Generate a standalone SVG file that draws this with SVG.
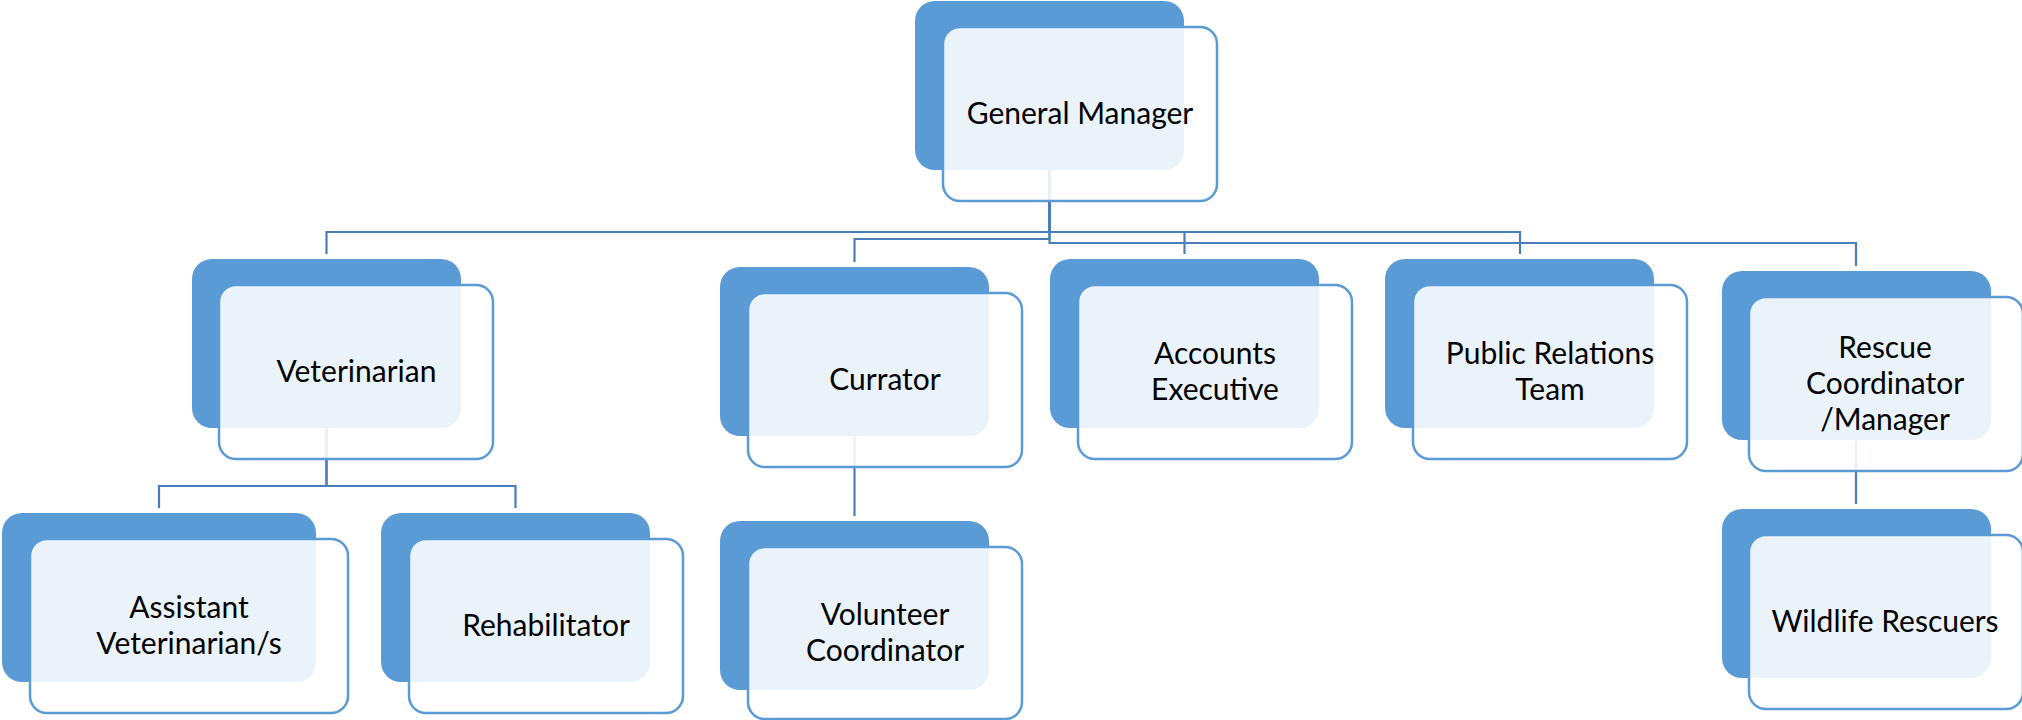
<svg xmlns="http://www.w3.org/2000/svg" width="2022" height="720" viewBox="0 0 2022 720">
<style>
.dark{fill:#5B9BD5;}
.inner{fill:#FFFFFF;fill-opacity:0.88;stroke:#5B9BD5;stroke-width:2.5;}
.conn{fill:none;stroke:#4A7EBB;stroke-width:2.2;}
.t{font-family:Lato,"Liberation Sans",sans-serif;font-size:30px;fill:#000;text-anchor:middle;}
</style>
<rect width="2022" height="720" fill="#FFFFFF"/>
<g id="connectors">
<path class="conn" d="M1049.5 170 V232 H326.5 V254"/>
<path class="conn" d="M1049.5 170 V232 H1184.5 V254"/>
<path class="conn" d="M1049.5 170 V232 H1520 V254"/>
<path class="conn" d="M1049.5 170 V239 H854.5 V262"/>
<path class="conn" d="M1049.5 170 V243 H1856 V266"/>
<path class="conn" d="M326.5 428 V486 H159 V508"/>
<path class="conn" d="M326.5 428 V486 H515.5 V508"/>
<path class="conn" d="M854.5 436 V516"/>
<path class="conn" d="M1856 441 V504"/>
</g>
<g id="general-manager">
<rect class="dark" x="915" y="1" width="269" height="169" rx="20"/>
<rect class="inner" x="943" y="27" width="274" height="174" rx="17"/>
<text class="t" x="1080" y="124">General Manager</text>
</g>
<g id="veterinarian">
<rect class="dark" x="192" y="259" width="269" height="169" rx="20"/>
<rect class="inner" x="219" y="285" width="274" height="174" rx="17"/>
<text class="t" x="356.5" y="382">Veterinarian</text>
</g>
<g id="currator">
<rect class="dark" x="720" y="267" width="269" height="169" rx="20"/>
<rect class="inner" x="748" y="293" width="274" height="174" rx="17"/>
<text class="t" x="885" y="390">Currator</text>
</g>
<g id="accounts-executive">
<rect class="dark" x="1050" y="259" width="269" height="169" rx="20"/>
<rect class="inner" x="1078" y="285" width="274" height="174" rx="17"/>
<text class="t" x="1215" y="364">Accounts</text>
<text class="t" x="1215" y="400">Executive</text>
</g>
<g id="public-relations">
<rect class="dark" x="1385" y="259" width="269" height="169" rx="20"/>
<rect class="inner" x="1413" y="285" width="274" height="174" rx="17"/>
<text class="t" x="1550" y="364">Public Relations</text>
<text class="t" x="1550" y="400">Team</text>
</g>
<g id="rescue-coordinator">
<rect class="dark" x="1722" y="271" width="269" height="169" rx="20"/>
<rect class="inner" x="1749" y="297" width="274" height="174" rx="17"/>
<text class="t" x="1885" y="358">Rescue</text>
<text class="t" x="1885" y="394">Coordinator</text>
<text class="t" x="1885" y="430">/Manager</text>
</g>
<g id="assistant-veterinarian">
<rect class="dark" x="2" y="513" width="314" height="169" rx="20"/>
<rect class="inner" x="30" y="539" width="318" height="174" rx="17"/>
<text class="t" x="189" y="618">Assistant</text>
<text class="t" x="189" y="654">Veterinarian/s</text>
</g>
<g id="rehabilitator">
<rect class="dark" x="381" y="513" width="269" height="169" rx="20"/>
<rect class="inner" x="409" y="539" width="274" height="174" rx="17"/>
<text class="t" x="546" y="636">Rehabilitator</text>
</g>
<g id="volunteer-coordinator">
<rect class="dark" x="720" y="521" width="269" height="169" rx="20"/>
<rect class="inner" x="748" y="547" width="274" height="172" rx="17"/>
<text class="t" x="885" y="625">Volunteer</text>
<text class="t" x="885" y="661">Coordinator</text>
</g>
<g id="wildlife-rescuers">
<rect class="dark" x="1722" y="509" width="269" height="169" rx="20"/>
<rect class="inner" x="1749" y="535" width="274" height="174" rx="17"/>
<text class="t" x="1885" y="632">Wildlife Rescuers</text>
</g>
</svg>
